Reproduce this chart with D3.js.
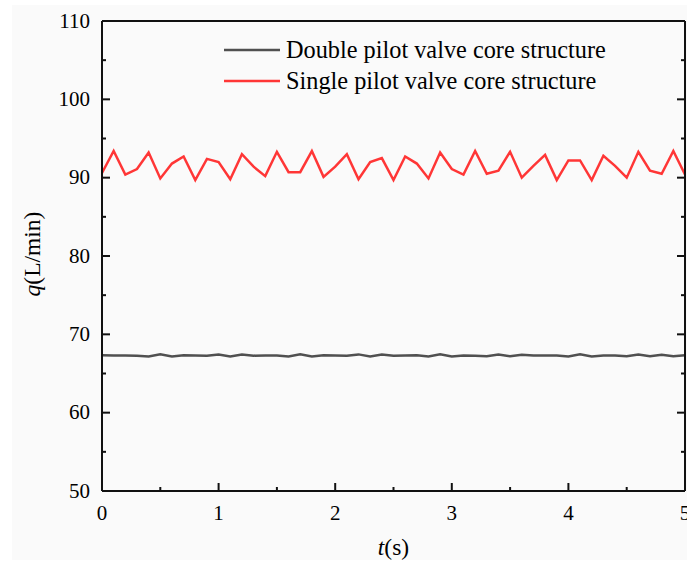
<!DOCTYPE html>
<html>
<head>
<meta charset="utf-8">
<script src="https://cdn.jsdelivr.net/npm/d3@7"></script>
<style>
  body { margin: 0; background: #fff; }
  text { font-family: "Liberation Serif", "Times New Roman", serif; fill: #000; }
</style>
</head>
<body>
<div id="chart-area"></div>
<script>
// time step 0.1 s, 0..5 s
const times = d3.range(0, 51).map(i => i / 10);

const singleValues = [
  90.6, 93.4, 90.4, 91.1, 93.2, 89.9, 91.8, 92.7, 89.7, 92.4,
  92.0, 89.8, 93.0, 91.4, 90.2, 93.3, 90.7, 90.7, 93.4, 90.1,
  91.4, 93.0, 89.8, 92.0, 92.5, 89.7, 92.7, 91.8, 89.9, 93.2,
  91.1, 90.4, 93.4, 90.5, 90.9, 93.3, 90.0, 91.5, 92.9, 89.7,
  92.2, 92.2, 89.7, 92.8, 91.5, 90.0, 93.3, 90.9, 90.5, 93.4,
  90.4
];

const doubleValues = [
  67.32, 67.30, 67.30, 67.28, 67.16, 67.44, 67.18, 67.32, 67.30, 67.28,
  67.42, 67.18, 67.42, 67.28, 67.30, 67.30, 67.18, 67.44, 67.18, 67.32,
  67.30, 67.28, 67.44, 67.18, 67.42, 67.28, 67.30, 67.32, 67.18, 67.44,
  67.18, 67.30, 67.28, 67.20, 67.42, 67.20, 67.40, 67.30, 67.30, 67.30,
  67.18, 67.44, 67.18, 67.30, 67.30, 67.20, 67.42, 67.20, 67.40, 67.20,
  67.32
];

const seriesNames = ["Double pilot valve core structure", "Single pilot valve core structure"];
const seriesColors = ["#505050", "#ff3636"];

const xTicks = [0, 1, 2, 3, 4, 5];
const yTicks = [50, 60, 70, 80, 90, 100, 110];

const canvas_dims = { width: 687, height: 561 };
const margins = { top: 21, right: 2, bottom: 70, left: 102 };
const content_dims = {
  width: canvas_dims.width - margins.left - margins.right,
  height: canvas_dims.height - margins.top - margins.bottom
};

const svg = d3.select("#chart-area")
  .append("svg")
  .attr("width", canvas_dims.width)
  .attr("height", canvas_dims.height);

svg.append("rect")
  .attr("x", 12).attr("y", 5)
  .attr("width", canvas_dims.width - 12)
  .attr("height", canvas_dims.height - 6)
  .attr("fill", "#fafafa");

const group = svg.append("g")
  .attr("transform", `translate(${margins.left},${margins.top})`);

const x = d3.scaleLinear().domain([0, 5]).range([0, content_dims.width]);
const y = d3.scaleLinear().domain([50, 110]).range([content_dims.height, 0]);

// minor ticks
const xMinor = d3.range(0.5, 5, 1);
const yMinor = d3.range(55, 110, 10);

function styleAxis(g) {
  g.selectAll("path.domain").attr("stroke", "#111").attr("stroke-width", 2);
  g.selectAll(".tick line").attr("stroke", "#111").attr("stroke-width", 2);
  g.selectAll(".tick text").attr("fill", "#000");
}

// lines
const line = d3.line()
  .x((d, i) => x(times[i]))
  .y(d => y(d));

[doubleValues, singleValues].forEach((vals, k) => {
  group.append("path")
    .datum(vals)
    .attr("fill", "none")
    .attr("stroke", seriesColors[k])
    .attr("stroke-width", 2.5)
    .attr("stroke-linejoin", "miter")
    .attr("d", line);
});

// frame top
group.append("line")
  .attr("x1", 0).attr("x2", content_dims.width)
  .attr("y1", 0).attr("y2", 0)
  .attr("stroke", "#111").attr("stroke-width", 2);

// bottom axis
const bottom = group.append("g")
  .attr("transform", `translate(0,${content_dims.height})`)
  .call(d3.axisBottom(x).tickValues(xTicks).tickSizeInner(-8).tickSizeOuter(0).offset(0).tickPadding(14).tickFormat(d3.format("d")));
bottom.selectAll("text").attr("font-size", "21px");
styleAxis(bottom);
group.append("g")
  .attr("transform", `translate(0,${content_dims.height})`)
  .call(d3.axisBottom(x).tickValues(xMinor).tickSize(-4).offset(0).tickFormat(""))
  .call(g => g.select(".domain").remove())
  .call(styleAxis);

// left axis
const left = group.append("g")
  .call(d3.axisLeft(y).tickValues(yTicks).tickSizeInner(-8).tickSizeOuter(0).offset(0).tickPadding(12));
left.selectAll("text").attr("font-size", "21px");
styleAxis(left);
group.append("g")
  .call(d3.axisLeft(y).tickValues(yMinor).tickSize(-4).offset(0).tickFormat(""))
  .call(g => g.select(".domain").remove())
  .call(styleAxis);

// right axis
const right = group.append("g")
  .attr("transform", `translate(${content_dims.width},0)`)
  .call(d3.axisRight(y).tickValues(yTicks).tickSizeInner(-8).tickSizeOuter(0).offset(0).tickFormat(""));
styleAxis(right);
group.append("g")
  .attr("transform", `translate(${content_dims.width},0)`)
  .call(d3.axisRight(y).tickValues(yMinor).tickSize(-4).offset(0).tickFormat(""))
  .call(g => g.select(".domain").remove())
  .call(styleAxis);

// axis labels
const yLabel = group.append("text")
  .attr("transform", "rotate(-90)")
  .attr("x", -(content_dims.height / 2) + 2)
  .attr("y", -62)
  .attr("text-anchor", "middle")
  .attr("font-size", "23.5px");
yLabel.append("tspan").attr("font-style", "italic").text("q");
yLabel.append("tspan").text("(L/min)");

const xLabel = group.append("text")
  .attr("x", content_dims.width / 2)
  .attr("y", content_dims.height + 64)
  .attr("text-anchor", "middle")
  .attr("font-size", "23.5px");
xLabel.append("tspan").attr("font-style", "italic").text("t");
xLabel.append("tspan").text("(s)");

// legend
const legend = svg.append("g").attr("transform", "translate(224,50)");
seriesNames.forEach((name, k) => {
  const row = legend.append("g").attr("transform", `translate(0,${k * 31})`);
  row.append("line")
    .attr("x1", 0).attr("x2", 56)
    .attr("stroke", seriesColors[k]).attr("stroke-width", 2.5);
  row.append("text")
    .attr("x", 62).attr("y", 8)
    .attr("font-size", "24.3px")
    .text(name);
});
</script>
</body>
</html>
